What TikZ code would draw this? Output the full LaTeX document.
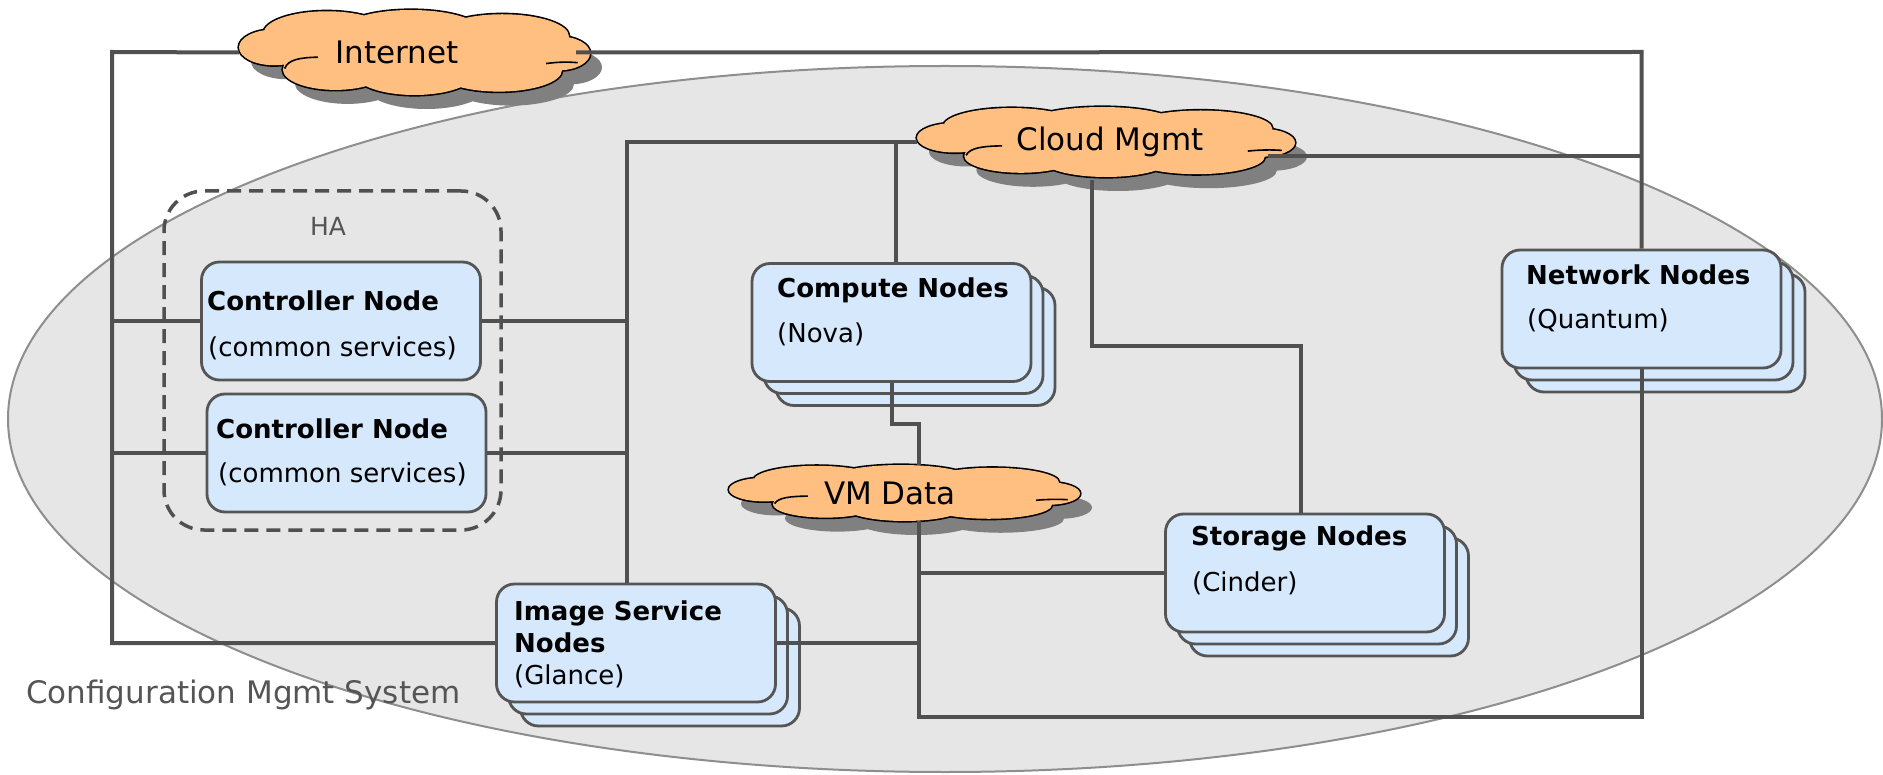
\documentclass[tikz,border=0pt]{standalone}
\usepackage{fontspec}
\setmainfont{DejaVu Sans}
\usetikzlibrary{shapes.geometric}
\definecolor{lineC}{HTML}{505050}
\definecolor{boxC}{HTML}{D5E8FC}
\definecolor{boxL}{HTML}{555555}
\definecolor{ellC}{HTML}{E6E6E6}
\definecolor{ellL}{HTML}{8E8E8E}
\definecolor{cloudC}{HTML}{FFBF80}
\definecolor{shadC}{HTML}{808080}
\definecolor{grayT}{HTML}{555555}
\newcommand{\cloudpuffs}{
 (-0.80,-0.12) ellipse [x radius=0.20, y radius=0.42]
 (-0.50,-0.45) ellipse [x radius=0.36, y radius=0.52]
 (-0.02,-0.50) ellipse [x radius=0.40, y radius=0.50]
 (0.50,-0.38) ellipse [x radius=0.38, y radius=0.52]
 (0.82,0.02) ellipse [x radius=0.18, y radius=0.40]
 (0.48,0.42) ellipse [x radius=0.36, y radius=0.50]
 (0.0,0.50) ellipse [x radius=0.34, y radius=0.50]
 (-0.45,0.40) ellipse [x radius=0.30, y radius=0.48]
 (0,0) ellipse [x radius=0.75, y radius=0.6]
}
\newcommand{\drawcloud}[4]{%
 \begin{scope}[shift={(#1+12,#2+14)}, xscale=#3, yscale=#4]
   \fill[shadC] \cloudpuffs;
 \end{scope}
 \begin{scope}[shift={(#1,#2)}, xscale=#3, yscale=#4]
   \draw[black, line width=3.2pt] \cloudpuffs;
   \fill[cloudC] \cloudpuffs;
   \draw[black, line width=1.6pt] (-0.74,0.38) .. controls (-0.72,0.16) and (-0.65,0.12) .. (-0.55,0.11);
   \draw[black, line width=1.6pt] (0.75,0.26) .. controls (0.82,0.22) and (0.88,0.22) .. (0.93,0.24);
 \end{scope}}
\tikzset{
  conn/.style={draw=lineC, line width=4pt},
  nbox/.style={draw=boxL, fill=boxC, line width=2.8pt, rounded corners=18pt,
    minimum width=279pt, minimum height=118pt, inner sep=0pt},
  cloudnode/.style={inner sep=0pt, font=\fontsize{31}{36}\selectfont},
  ttl/.style={font=\fontsize{26}{31}\selectfont\bfseries, anchor=west, inner sep=0pt},
  sub/.style={font=\fontsize{26}{31}\selectfont, anchor=west, inner sep=0pt},
  hastyle/.style={draw=lineC, line width=3.5pt, rounded corners=40pt,
    dash pattern=on 14pt off 8pt, minimum width=337pt, minimum height=339pt, inner sep=0pt},
}
\begin{document}
\begin{tikzpicture}[x=1pt,y=-1pt]
\useasboundingbox (0,0) rectangle (1883,775);
% configuration management system
\node[draw=ellL, fill=ellC, line width=2pt, ellipse, minimum width=1874pt, minimum height=706pt, inner sep=0pt] (cms) at (945,419) {};
\node[font=\fontsize{31}{36}\selectfont, text=grayT, anchor=west, inner sep=0pt] (cmsT) at (26,695) {Configuration Mgmt System};

% cloud outlines
\drawcloud{414.5}{52.5}{175.5}{42.5}
\drawcloud{1106}{142}{189}{35}
\drawcloud{904.5}{493}{175.5}{28}

% HA group
\node[hastyle] (ha) at (332.5,360.5) {};
\node[font=\fontsize{25}{30}\selectfont, text=grayT, inner sep=0pt] (haT) at (328,226) {HA};

% boxes
\node[nbox] (ctrl1) at (341,321) {};
\node[nbox] (ctrl2) at (346.5,453) {};
\node[nbox] (comp3) at (915.5,346.5) {};
\node[nbox] (comp2) at (903.5,334.5) {};
\node[nbox] (comp) at (891.5,322.5) {};
\node[nbox] (net3) at (1665.5,333) {};
\node[nbox] (net2) at (1653.5,321) {};
\node[nbox] (net) at (1641.5,309) {};
\node[nbox] (stor3) at (1329,597) {};
\node[nbox] (stor2) at (1317,585) {};
\node[nbox] (stor) at (1305,573) {};
\node[nbox] (img3) at (660,667) {};
\node[nbox] (img2) at (648,655) {};
\node[nbox] (img) at (636,643) {};

% cloud nodes (text)
\node[cloudnode, minimum width=351pt, minimum height=85pt] (inet) at (414.5,52.5) {\hspace*{-35pt}Internet};
\node[cloudnode, minimum width=378pt, minimum height=70pt] (cm) at (1106,142) {\hspace*{8pt}Cloud Mgmt};
\node[cloudnode, minimum width=351pt, minimum height=56pt] (vm) at (904.5,493) {\hspace*{-29pt}VM Data};

% coordinates for connectors
\coordinate (cTL) at (112,52);
\coordinate (cBL) at (112,643);
\coordinate (cC1) at (112,321);
\coordinate (cC2) at (112,453);
\coordinate (cTR) at (1641.5,52);
\coordinate (cMR) at (1268,156);
\coordinate (cMR2) at (1641.5,156);
\coordinate (cMa) at (627,142);
\coordinate (cMb) at (896,142);
\coordinate (cMc) at (1092,180);
\coordinate (cMd) at (1092,346);
\coordinate (cMe) at (1301,346);
\coordinate (cV) at (919,424);
\coordinate (cVB) at (919,717);
\coordinate (cRB) at (1641.5,717);
\coordinate (cS) at (919,573);

% connectors
\draw[conn] (inet.west) -- (cTL) -- (cBL) -- (img.west);
\draw[conn] (cC1) -- (ctrl1.west);
\draw[conn] (cC2) -- (ctrl2.west);
\draw[conn] ([xshift=-14pt]inet.east) -- (cTR) -- (net.north);
\draw[conn] (cMR) -- (cMR2);
\draw[conn] (cm.west) -- (cMa) -- (cMa |- img.north);
\draw[conn] (ctrl1.east) -- (ctrl1.east -| cMa);
\draw[conn] (ctrl2.east) -- (ctrl2.east -| cMa);
\draw[conn] (cMb) -- (cMb |- comp.north);
\draw[conn] (cMc) -- (cMd) -- (cMe) -- (cMe |- stor.north);
\draw[conn] (comp.south) |- (cV) -- (cV |- vm.north);
\draw[conn] (cV |- vm.south) -- (cVB) -- (cRB) -- (net.south);
\draw[conn] (cS) -- (stor.west);
\draw[conn] (img.east) -- (img.east -| cV);

% box texts
\node[ttl] (ctrl1a) at (207,301) {Controller Node};
\node[sub] (ctrl1b) at (208,348) {(common services)};
\node[ttl] (ctrl2a) at (216,429) {Controller Node};
\node[sub] (ctrl2b) at (218,474) {(common services)};
\node[ttl] (compa) at (777,290) {Compute Nodes};
\node[sub] (compb) at (777,334) {(Nova)};
\node[ttl] (neta) at (1526,275) {Network Nodes};
\node[sub] (netb) at (1527,320) {(Quantum)};
\node[ttl] (stora) at (1191,538) {Storage Nodes};
\node[sub] (storb) at (1192,583) {(Cinder)};
\node[ttl] (imga) at (514,613) {Image Service};
\node[ttl] (imgb) at (514,643) {Nodes};
\node[sub] (imgc) at (514,676) {(Glance)};
\end{tikzpicture}
\end{document}
